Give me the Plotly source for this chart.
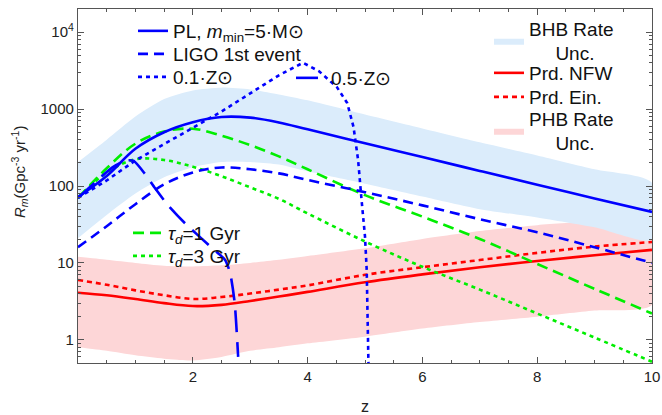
import plotly.graph_objects as go

# ---------------- data ----------------
z = [0, 0.5, 1, 1.5, 2, 2.5, 3, 3.5, 4, 5, 6, 7, 8, 9, 10]

pl_mmin5 = [72, 135, 305, 500, 675, 790, 775, 670, 545, 360, 238, 157, 104, 69, 46]
ligo_first = [16, 30, 58, 105, 150, 174, 165, 146, 120, 83, 56, 37, 25, 16, 10]
tau_1gyr = [70, 170, 355, 510, 555, 450, 340, 243, 165, 76, 40, 20.5, 9.7, 4.6, 2.2]
tau_3gyr = [70, 150, 222, 218, 178, 134, 96, 68, 44, 19, 8.9, 4.5, 2.2, 1.07, 0.52]
prd_nfw = [4.1, 3.8, 3.4, 3.0, 2.75, 2.85, 3.2, 3.65, 4.2, 5.6, 7.1, 8.8, 10.6, 12.6, 14.8]
prd_ein = [6.0, 5.2, 4.4, 3.8, 3.4, 3.6, 4.0, 4.5, 5.1, 7.0, 8.8, 10.9, 13.5, 16.3, 18.7]

bhb_hi = [205, 400, 800, 1350, 1750, 1900, 1800, 1550, 1300, 850, 560, 370, 250, 165, 110]
bhb_lo = [21, 42, 80, 130, 175, 205, 205, 190, 155, 107, 73, 50, 39, 29, 20]
phb_hi = [12, 11, 10, 9.2, 9.0, 9.3, 10, 11, 12.3, 15.5, 20.5, 26, 31, 35, 39]
phb_lo = [0.8, 0.72, 0.63, 0.57, 0.54, 0.6, 0.72, 0.8, 0.9, 1.1, 1.4, 1.7, 2.0, 2.4, 2.85]

z_01 = [0, 0.5, 1, 1.5, 2, 2.5, 3, 3.5, 3.92, 4.2, 4.51, 4.69, 4.8, 4.88, 4.94, 5.0, 5.03, 5.06]
zsun_01 = [70, 118, 215, 350, 560, 930, 1600, 2750, 4000, 3100, 1930, 1200, 585, 217, 66, 22, 8, 0.5]

z_05 = [0, 0.3, 0.6, 0.85, 0.97, 1.16, 1.34, 1.57, 1.86, 2.32, 2.56, 2.65, 2.73, 2.79]
zsun_05 = [70, 112, 175, 215, 212, 146, 94, 56, 33, 16, 11, 7.4, 3.0, 0.6]

y_tickvals = [1, 10, 100, 1000, 10000]
y_ticktext = ["1", "10", "100", "1000", "10<sup>4</sup>"]
x_tickvals = [2, 4, 6, 8, 10]

# ---------------- style ----------------
BLUE = "#0000ff"
GREEN = "#00ee00"
RED = "#ff0000"
BHB_FILL = "#dbecfb"
PHB_FILL = "#fdd6d7"
LW = 2.6
FONT = "Liberation Sans, Arial, sans-serif"

W, H = 662, 415
ML, MR, MT, MB = 78, 10, 9, 52
PW, PH = W - ML - MR, H - MT - MB


def px_x(px):
    return (px - ML) / PW


def px_y(py):
    return (H - MB - py) / PH


fig = go.Figure()

# bands (pink under blue)
fig.add_trace(go.Scatter(
    x=z + z[::-1], y=phb_hi + phb_lo[::-1], fill="toself", fillcolor=PHB_FILL,
    line=dict(width=0, shape="spline", smoothing=0.7), mode="lines",
    name="PHB Rate<br>\u00a0\u00a0\u00a0\u00a0\u00a0Unc.",
    legend="legend10", hoverinfo="skip"))
fig.add_trace(go.Scatter(
    x=z + z[::-1], y=bhb_hi + bhb_lo[::-1], fill="toself", fillcolor=BHB_FILL,
    line=dict(width=0, shape="spline", smoothing=0.7), mode="lines",
    name="BHB Rate<br>\u00a0\u00a0\u00a0\u00a0\u00a0Unc.",
    legend="legend7", hoverinfo="skip"))

# lines
fig.add_trace(go.Scatter(x=z, y=prd_nfw, mode="lines", name="Prd. NFW",
                         line=dict(color=RED, width=LW, shape="spline"), legend="legend8"))
fig.add_trace(go.Scatter(x=z, y=prd_ein, mode="lines", name="Prd. Ein.",
                         line=dict(color=RED, width=LW, dash="5px,4px", shape="spline"), legend="legend9"))
fig.add_trace(go.Scatter(x=z, y=tau_1gyr, mode="lines", name="<i>τ<sub>d</sub></i>=1 Gyr",
                         line=dict(color=GREEN, width=LW, dash="11px,6px", shape="spline"), legend="legend5"))
fig.add_trace(go.Scatter(x=z, y=tau_3gyr, mode="lines", name="<i>τ<sub>d</sub></i>=3 Gyr",
                         line=dict(color=GREEN, width=LW, dash="4px,4px", shape="spline"), legend="legend6"))
fig.add_trace(go.Scatter(x=z, y=ligo_first, mode="lines", name="LIGO 1st event",
                         line=dict(color=BLUE, width=LW, dash="10px,6px", shape="spline"), legend="legend2"))
fig.add_trace(go.Scatter(x=z_05, y=zsun_05, mode="lines", name="0.5·Z⊙",
                         line=dict(color=BLUE, width=LW, dash="22px,10px", shape="spline", smoothing=0.6),
                         legend="legend4"))
fig.add_trace(go.Scatter(x=z_01, y=zsun_01, mode="lines", name="0.1·Z⊙",
                         line=dict(color=BLUE, width=LW, dash="4px,4px"), legend="legend3"))
fig.add_trace(go.Scatter(x=z, y=pl_mmin5, mode="lines", name="PL, <i>m</i><sub>min</sub>=5·M⊙",
                         line=dict(color=BLUE, width=LW, shape="spline"), legend="legend"))

# legend placement: (text left px, item centre py)
legend_pos = {
    "legend": (173, 31),
    "legend2": (173, 54),
    "legend3": (173, 77),
    "legend4": (331, 78),
    "legend5": (168, 233),
    "legend6": (168, 256),
    "legend7": (529, 41),
    "legend8": (529, 73),
    "legend9": (529, 97),
    "legend10": (529, 131),
}
legend_layout = {}
for key, (tx, cy) in legend_pos.items():
    legend_layout[key] = dict(
        x=px_x(tx - 40), y=px_y(cy), xanchor="left", yanchor="middle",
        bgcolor="rgba(0,0,0,0)", borderwidth=0,
        font=dict(family=FONT, size=19, color="#111"),
        tracegroupgap=0, itemwidth=30,
    )

minor_y = [k * 10 ** n for n in range(-1, 5) for k in range(2, 10)]

fig.update_layout(
    width=W, height=H,
    margin=dict(l=ML, r=MR, t=MT, b=MB, pad=0, autoexpand=False),
    paper_bgcolor="white", plot_bgcolor="white",
    font=dict(family=FONT, size=15, color="#222"),
    showlegend=True,
    **legend_layout,
    xaxis=dict(
        range=[0, 10], tickvals=x_tickvals, ticks="inside", ticklen=6, tickwidth=1,
        tickcolor="#555", showline=True, linecolor="#555", linewidth=1.3, mirror="ticks",
        showgrid=False, zeroline=False, tickfont=dict(size=15), automargin=False,
        minor=dict(ticks="inside", ticklen=3, dtick=0.5, tickcolor="#555", showgrid=False),
        title=dict(text="z", font=dict(size=16), standoff=20),
    ),
    yaxis=dict(
        type="log", range=[-0.301, 4.301], tickvals=y_tickvals, ticktext=y_ticktext,
        ticks="inside", ticklen=6, tickwidth=1, tickcolor="#555", automargin=False,
        showline=True, linecolor="#555", linewidth=1.3, mirror="ticks",
        showgrid=False, zeroline=False, tickfont=dict(size=15),
        minor=dict(ticks="inside", ticklen=3, tickvals=minor_y, tickcolor="#555", showgrid=False),
    ),
    annotations=[dict(
        text="<i>R<sub>m</sub></i>(Gpc<sup>-3</sup> yr<sup>-1</sup>)",
        x=px_x(19), y=px_y(172), xref="paper", yref="paper", textangle=-90,
        showarrow=False, font=dict(size=15, color="#222"),
        xanchor="center", yanchor="middle")],
)

fig.write_html(
    "out.html",
    config={"displayModeBar": False},
    post_script="document.body.style.margin='0';document.body.style.padding='0';",
)
